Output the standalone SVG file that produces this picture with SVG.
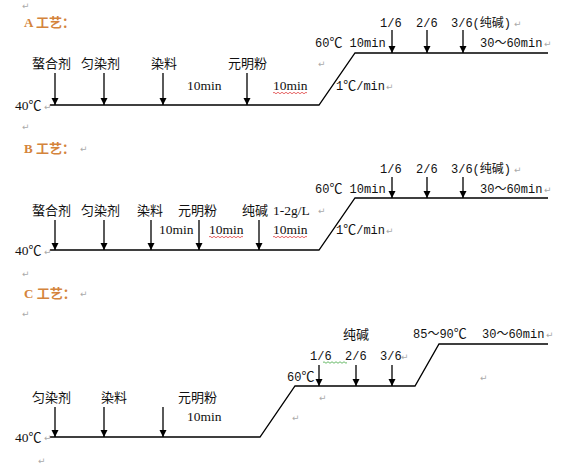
<svg xmlns="http://www.w3.org/2000/svg" width="580" height="471" viewBox="0 0 580 471">
<defs>
<marker id="ah" markerWidth="8" markerHeight="8" refX="7" refY="3.5" orient="auto" markerUnits="userSpaceOnUse">
<path d="M0,0 L7,3.5 L0,7 z" fill="#000"/>
</marker>
<style>
.cn{font-family:"Noto Sans CJK SC","Liberation Sans",sans-serif;font-size:13px;fill:#111}
.sf{font-family:"Liberation Serif","Noto Sans CJK SC",serif;font-size:13.5px;fill:#111}
.mo{font-family:"Liberation Mono","Noto Sans CJK SC",monospace;font-size:12px;fill:#111}
.c{font-family:"Noto Sans CJK SC",sans-serif;font-feature-settings:"fwid" 1;font-size:13px}
.hd{font-family:"Liberation Serif","Noto Sans CJK SC",serif;font-size:13px;font-weight:bold;fill:#d4843c}
.pm{font-family:"DejaVu Sans",sans-serif;font-size:9px;fill:#aaa}
.ln{fill:none;stroke:#000;stroke-width:1.3}
.ar{stroke:#000;stroke-width:1.3;marker-end:url(#ah)}
.wr{fill:none;stroke:#e04040;stroke-width:0.8}
.wg{fill:none;stroke:#4a4;stroke-width:0.8}
</style>
</defs>
<rect width="580" height="471" fill="#fff"/>

<g id="connectors">
<polyline class="ln" points="50,105 319,105 355,53 548,53"/>
<line class="ar" x1="55" y1="73" x2="55" y2="105"/>
<line class="ar" x1="104" y1="73" x2="104" y2="105"/>
<line class="ar" x1="163" y1="73" x2="163" y2="105"/>
<line class="ar" x1="247" y1="73" x2="247" y2="105"/>
<line class="ar" x1="392" y1="30" x2="392" y2="53"/>
<line class="ar" x1="427" y1="30" x2="427" y2="53"/>
<line class="ar" x1="463" y1="30" x2="463" y2="53"/>

<polyline class="ln" points="50,250 319,250 355,198 548,198"/>
<line class="ar" x1="55" y1="220" x2="55" y2="250"/>
<line class="ar" x1="104" y1="220" x2="104" y2="250"/>
<line class="ar" x1="151" y1="220" x2="151" y2="250"/>
<line class="ar" x1="199" y1="220" x2="199" y2="250"/>
<line class="ar" x1="259" y1="220" x2="259" y2="250"/>
<line class="ar" x1="392" y1="177" x2="392" y2="198"/>
<line class="ar" x1="427" y1="177" x2="427" y2="198"/>
<line class="ar" x1="463" y1="177" x2="463" y2="198"/>

<polyline class="ln" points="50,437 260,437 295,386 415,386 439,344 548,344"/>
<line class="ar" x1="55" y1="407" x2="55" y2="437"/>
<line class="ar" x1="104" y1="407" x2="104" y2="437"/>
<line class="ar" x1="163" y1="407" x2="163" y2="437"/>
<line class="ar" x1="319" y1="365" x2="319" y2="386"/>
<line class="ar" x1="356" y1="365" x2="356" y2="386"/>
<line class="ar" x1="392" y1="365" x2="392" y2="386"/>
</g>

<g id="process-A">
<text class="hd" x="24" y="27">A 工艺：</text>
<text class="cn" x="32" y="68">螯合剂</text>
<text class="cn" x="81" y="68">匀染剂</text>
<text class="cn" x="151" y="68">染料</text>
<text class="cn" x="228" y="68">元明粉</text>
<text class="sf" x="187" y="90">10min</text>
<text class="sf" x="273" y="90">10min</text>
<path class="wr" d="M273,93 q1,-1.5 2,0 t2,0 t2,0 t2,0 t2,0 t2,0 t2,0 t2,0 t2,0 t2,0 t2,0 t2,0 t2,0 t2,0 t2,0 t2,0 t2,0"/>
<text class="sf" x="15" y="110">40<tspan class="c">℃</tspan></text>
<text class="mo" x="336" y="90">1<tspan class="c">℃</tspan>/min</text>
<text class="mo" x="315" y="47">60<tspan class="c">℃</tspan> 10min</text>
<text class="mo" x="380" y="27">1/6</text>
<text class="mo" x="416" y="27">2/6</text>
<text class="mo" x="451" y="27">3/6(纯碱)</text>
<text class="mo" x="480" y="47">30～60min</text>
</g>

<g id="process-B">
<text class="hd" x="24" y="153">B 工艺：</text>
<text class="cn" x="32" y="215">螯合剂</text>
<text class="cn" x="81" y="215">匀染剂</text>
<text class="cn" x="137" y="215">染料</text>
<text class="cn" x="178" y="215">元明粉</text>
<text class="cn" x="242" y="215">纯碱</text>
<text class="sf" x="273" y="215">1-2g/L</text>
<text class="sf" x="159" y="234">10min</text>
<text class="sf" x="209" y="234">10min</text>
<path class="wr" d="M209,237 q1,-1.5 2,0 t2,0 t2,0 t2,0 t2,0 t2,0 t2,0 t2,0 t2,0 t2,0 t2,0 t2,0 t2,0 t2,0 t2,0 t2,0 t2,0"/>
<text class="sf" x="273" y="234">10min</text>
<path class="wr" d="M273,237 q1,-1.5 2,0 t2,0 t2,0 t2,0 t2,0 t2,0 t2,0 t2,0 t2,0 t2,0 t2,0 t2,0 t2,0 t2,0 t2,0 t2,0 t2,0"/>
<text class="sf" x="15" y="255">40<tspan class="c">℃</tspan></text>
<text class="mo" x="336" y="234">1<tspan class="c">℃</tspan>/min</text>
<text class="mo" x="315" y="193">60<tspan class="c">℃</tspan> 10min</text>
<text class="mo" x="380" y="173">1/6</text>
<text class="mo" x="416" y="173">2/6</text>
<text class="mo" x="451" y="173">3/6(纯碱)</text>
<text class="mo" x="480" y="193">30～60min</text>
</g>

<g id="process-C">
<text class="hd" x="24" y="298">C 工艺：</text>
<text class="cn" x="32" y="402">匀染剂</text>
<text class="cn" x="101" y="402">染料</text>
<text class="cn" x="178" y="402">元明粉</text>
<text class="sf" x="187" y="421">10min</text>
<text class="sf" x="15" y="442">40<tspan class="c">℃</tspan></text>
<text class="mo" x="287" y="381">60<tspan class="c">℃</tspan></text>
<text class="mo" x="310" y="360">1/6</text>
<text class="mo" x="345" y="360">2/6</text>
<text class="mo" x="380" y="360">3/6</text>
<path class="wg" d="M323,362.5 q1,-1.5 2,0 t2,0 t2,0 t2,0 t2,0 t2,0 t2,0 t2,0 t2,0 t2,0 t2,0 t2,0"/>
<text class="cn" x="343" y="339">纯碱</text>
<text class="mo" x="413" y="338">85～90<tspan class="c">℃</tspan></text>
<text class="mo" x="482" y="338">30～60min</text>
</g>

<g id="para-marks">
<text class="pm" x="22" y="9">↵</text>
<text class="pm" x="44" y="110">↵</text>
<text class="pm" x="22" y="130">↵</text>
<text class="pm" x="318" y="67">↵</text>
<text class="pm" x="386" y="90">↵</text>
<text class="pm" x="514" y="27">↵</text>
<text class="pm" x="544" y="47">↵</text>
<text class="pm" x="80" y="152">↵</text>
<text class="pm" x="44" y="255">↵</text>
<text class="pm" x="318" y="214">↵</text>
<text class="pm" x="386" y="234">↵</text>
<text class="pm" x="514" y="173">↵</text>
<text class="pm" x="544" y="193">↵</text>
<text class="pm" x="22" y="277">↵</text>
<text class="pm" x="80" y="297">↵</text>
<text class="pm" x="22" y="317">↵</text>
<text class="pm" x="44" y="441">↵</text>
<text class="pm" x="38" y="464">↵</text>
<text class="pm" x="401" y="360">↵</text>
<text class="pm" x="546" y="338">↵</text>
<text class="pm" x="480" y="381">↵</text>
<text class="pm" x="319" y="401">↵</text>
<text class="pm" x="292" y="421">↵</text>
</g>
</svg>
